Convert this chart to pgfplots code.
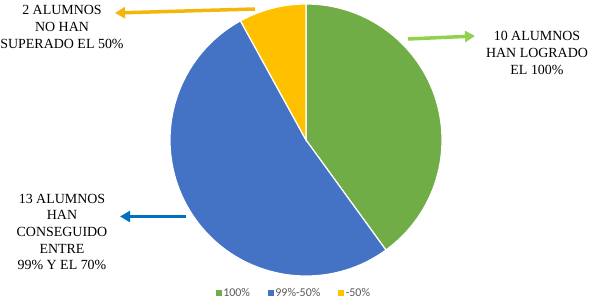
\documentclass[border=0pt]{standalone}
\usepackage{pgfplots}
\pgfplotsset{compat=1.18}
\usepackage{pgfplotstable}
\usepackage{fontspec}
\setmainfont{Liberation Serif}
\newfontfamily\labfont{Liberation Serif}
\newfontfamily\legfont{Carlito}
\usetikzlibrary{arrows.meta}
\definecolor{cgreen}{HTML}{70AD47}
\definecolor{cblue}{HTML}{4472C4}
\definecolor{cyellow}{HTML}{FFC000}
\definecolor{agreen}{HTML}{92D050}
\definecolor{ablue}{HTML}{0070C0}
\definecolor{ayellow}{HTML}{F5B50A}
\definecolor{legtext}{HTML}{595959}
% counts of students per group
\pgfplotstableread{
group count
100 10
99-50 13
-50 2
}\piedata
\pgfplotstablegetelem{0}{count}\of\piedata \let\va\pgfplotsretval
\pgfplotstablegetelem{1}{count}\of\piedata \let\vb\pgfplotsretval
\pgfplotstablegetelem{2}{count}\of\piedata \let\vc\pgfplotsretval
\pgfmathsetmacro\tot{\va+\vb+\vc}
\pgfmathsetmacro\aA{90}
\pgfmathsetmacro\aB{90-360*\va/\tot}
\pgfmathsetmacro\aC{\aB-360*\vb/\tot}
\pgfmathsetmacro\aD{\aC-360*\vc/\tot}
\begin{document}
\begin{tikzpicture}
\begin{axis}[name=ax,
  width=598bp, height=304bp, scale only axis,
  xmin=0, xmax=598, ymin=0, ymax=304,
  hide axis, clip=false,
  legend columns=3,
  legend style={draw=none, fill=none, at={(axis cs:294,11)}, anchor=center,
    font=\legfont\fontsize{12}{13}\selectfont, text=legtext,
    /tikz/every odd column/.append style={column sep=0bp},
    /tikz/every even column/.append style={column sep=16bp}},
  legend image code/.code={\fill[#1] (0bp,-2.5bp) rectangle (5bp,2.5bp);},
]
\def\cx{306}\def\cy{164}\def\R{136bp}
\fill[cgreen, draw=white, line width=1.2bp] (axis cs:\cx,\cy) -- ++(\aA:\R) arc[start angle=\aA, end angle=\aB, radius=\R] -- cycle;
\fill[cblue, draw=white, line width=1.2bp] (axis cs:\cx,\cy) -- ++(\aB:\R) arc[start angle=\aB, end angle=\aC, radius=\R] -- cycle;
\fill[cyellow, draw=white, line width=1.2bp] (axis cs:\cx,\cy) -- ++(\aC:\R) arc[start angle=\aC, end angle=\aD, radius=\R] -- cycle;
\addlegendimage{cgreen}\addlegendentry{100\%}
\addlegendimage{cblue}\addlegendentry{99\%-50\%}
\addlegendimage{cyellow}\addlegendentry{-50\%}
% arrows
\draw[ayellow, line width=3.5bp, -{Triangle[width=11bp,length=10bp]}] (axis cs:255,295) -- (axis cs:115,291);
\draw[agreen, line width=3.5bp, -{Triangle[width=11bp,length=10bp]}] (axis cs:408,265) -- (axis cs:475,268);
\draw[ablue, line width=3.5bp, -{Triangle[width=11bp,length=10bp]}] (axis cs:186,87.5) -- (axis cs:120,87.5);
% labels
\node[align=center, font=\labfont\fontsize{14}{16.7}\selectfont, inner sep=0pt] at (axis cs:62,277) {2 ALUMNOS\\NO HAN\\SUPERADO EL 50\%};
\node[align=center, font=\labfont\fontsize{14}{16.7}\selectfont, inner sep=0pt] at (axis cs:537,251) {10 ALUMNOS\\HAN LOGRADO\\EL 100\%};
\node[align=center, font=\labfont\fontsize{14}{16.7}\selectfont, inner sep=0pt] at (axis cs:62,72) {13 ALUMNOS\\HAN\\CONSEGUIDO\\ENTRE\\ 99\% Y EL 70\%};
\end{axis}
\pgfresetboundingbox
\path[use as bounding box] (ax.south west) rectangle (ax.north east);
\end{tikzpicture}
\end{document}
